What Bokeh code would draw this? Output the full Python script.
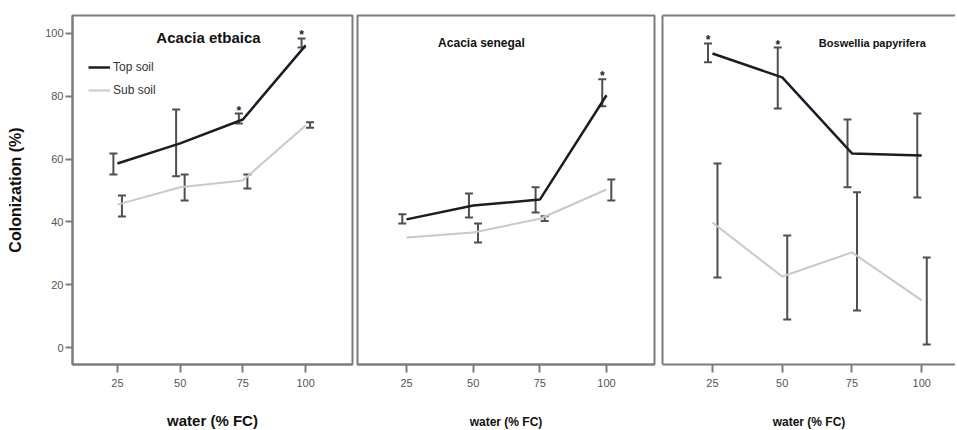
from bokeh.plotting import figure
from bokeh.layouts import row
from bokeh.models import (ColumnDataSource, Range1d, Whisker, Label, Legend, LegendItem,
                          FixedTicker, LinearAxis, TeeHead)
from bokeh.transform import dodge
from bokeh.core.properties import value
from bokeh.embed import file_html
from bokeh.resources import INLINE

nan = float("nan")

# ---------------- data ----------------
water = [25, 50, 75, 100]
xticks = [25, 50, 75, 100]
yticks = [0, 20, 40, 60, 80, 100]

titles = ["Acacia etbaica", "Acacia senegal", "Boswellia papyrifera"]
xlabel = "water (% FC)"
ylabel = "Colonization (%)"
series_names = ["Top soil", "Sub soil"]

# Acacia etbaica
ae_top = [58.6, 65.0, 72.6, 96.2]
ae_top_lo = [55.1, 54.5, 71.3, 95.5]
ae_top_hi = [61.8, 75.8, 74.5, 98.4]
ae_sub = [45.5, 51.0, 53.2, 70.7]
ae_sub_lo = [41.7, 46.8, 50.6, 70.0]
ae_sub_hi = [48.4, 55.1, 55.1, 71.7]
ae_sig = [False, False, True, True]

# Acacia senegal
as_top = [40.8, 45.2, 47.1, 80.3]
as_top_lo = [39.5, 41.4, 43.0, 76.8]
as_top_hi = [42.4, 49.0, 51.0, 85.4]
as_sub = [35.0, 36.6, 41.0, 50.3]
as_sub_lo = [nan, 33.4, 40.3, 46.8]
as_sub_hi = [nan, 39.5, 41.8, 53.5]
as_sig = [False, False, False, True]

# Boswellia papyrifera
bp_top = [93.6, 86.0, 61.8, 61.1]
bp_top_lo = [90.8, 76.1, 51.0, 47.8]
bp_top_hi = [96.8, 95.5, 72.6, 74.5]
bp_sub = [39.8, 22.6, 30.3, 15.0]
bp_sub_lo = [22.3, 8.9, 11.8, 1.0]
bp_sub_hi = [58.6, 35.7, 49.4, 28.7]
bp_sig = [True, True, False, False]

panels = [
    (ae_top, ae_top_lo, ae_top_hi, ae_sub, ae_sub_lo, ae_sub_hi, ae_sig),
    (as_top, as_top_lo, as_top_hi, as_sub, as_sub_lo, as_sub_hi, as_sig),
    (bp_top, bp_top_lo, bp_top_hi, bp_sub, bp_sub_lo, bp_sub_hi, bp_sig),
]

# ---------------- style ----------------
TOP_COLOR = "#1c1c26"
SUB_COLOR = "#c9c9c9"
BAR_COLOR = "#4f4f4f"
FRAME_COLOR = "#7c7c7c"
TICK_LABEL_COLOR = "#555555"
FONT = "Liberation Sans"

x_ranges = [(7.1, 118.7), (6.6, 118.0), (7.1, 112.1)]
frame_widths = [280, 297, 293]
borders = [(72, 2), (3, 3), (5, 0)]
y_range = (-5.4, 105.7)

# title label positions (x, y in data units), size, weight
title_pos = [(61.3, 98.7), (53.1, 96.8), (82.3, 96.8)]
title_fonts = [("15px", "bold"), ("12px", "bold"), ("11px", "bold")]
xlabel_sizes = ["15px", "12px", "12px"]

figs = []
for i, (top, tlo, thi, sub, slo, shi, sig) in enumerate(panels):
    bl, br = borders[i]
    p = figure(frame_width=frame_widths[i], frame_height=349,
               x_range=Range1d(*x_ranges[i]), y_range=Range1d(*y_range),
               min_border_left=bl, min_border_right=br,
               min_border_top=15, min_border_bottom=64,
               toolbar_location=None, output_backend="svg",
               background_fill_color="white", border_fill_color="white")
    p.grid.visible = False

    # x axis
    xa = p.xaxis[0]
    xa.ticker = FixedTicker(ticks=xticks)
    xa.minor_tick_line_color = None
    xa.major_tick_in = 0
    xa.major_tick_out = 8
    xa.major_tick_line_width = 2
    xa.major_tick_line_color = FRAME_COLOR
    xa.axis_line_color = FRAME_COLOR
    xa.axis_line_width = 2
    xa.major_label_text_font = FONT
    xa.major_label_text_font_size = "11px"
    xa.major_label_text_color = TICK_LABEL_COLOR
    xa.major_label_standoff = 6
    xa.axis_label = xlabel
    xa.axis_label_text_font = FONT
    xa.axis_label_text_font_size = xlabel_sizes[i]
    xa.axis_label_text_font_style = "bold"
    xa.axis_label_text_color = "#111111"
    xa.axis_label_standoff = 22 if i == 0 else 25

    ya = p.yaxis[0]
    if i == 0:
        ya.ticker = FixedTicker(ticks=yticks)
        ya.minor_tick_line_color = None
        ya.major_tick_in = 0
        ya.major_tick_out = 7
        ya.major_tick_line_width = 2
        ya.major_tick_line_color = FRAME_COLOR
        ya.axis_line_color = FRAME_COLOR
        ya.axis_line_width = 2
        ya.major_label_text_font = FONT
        ya.major_label_text_font_size = "11px"
        ya.major_label_text_color = TICK_LABEL_COLOR
        ya.major_label_standoff = 2
        ya.axis_label = ylabel
        ya.axis_label_text_font = FONT
        ya.axis_label_text_font_size = "16px"
        ya.axis_label_text_font_style = "bold"
        ya.axis_label_text_color = "#111111"
        ya.axis_label_standoff = 18
    elif i == 1:
        ya.visible = False
    else:
        ya.ticker = FixedTicker(ticks=[])
        ya.minor_tick_line_color = None
        ya.major_tick_line_color = None
        ya.axis_line_color = FRAME_COLOR
        ya.axis_line_width = 2

    if i < 2:
        p.outline_line_color = FRAME_COLOR
        p.outline_line_width = 2
    else:
        p.outline_line_color = None
        top_ax = LinearAxis(ticker=FixedTicker(ticks=[]), axis_line_color=FRAME_COLOR,
                            axis_line_width=2, major_tick_line_color=None,
                            minor_tick_line_color=None)
        p.add_layout(top_ax, "above")

    src = ColumnDataSource(dict(x=water, top=top, tlo=tlo, thi=thi,
                                sub=sub, slo=slo, shi=shi,
                                star=["*" if s else "" for s in sig]))

    r_sub = p.line("x", "sub", source=src, line_color=SUB_COLOR, line_width=2)
    r_top = p.line("x", "top", source=src, line_color=TOP_COLOR, line_width=2.5)

    for key_lo, key_hi, off in (("tlo", "thi", -1.6), ("slo", "shi", 1.8)):
        w = Whisker(base=dodge("x", off), lower=key_lo, upper=key_hi, source=src,
                    line_color=BAR_COLOR, line_width=2,
                    upper_head=TeeHead(size=8, line_color=BAR_COLOR, line_width=2),
                    lower_head=TeeHead(size=8, line_color=BAR_COLOR, line_width=2))
        p.add_layout(w)

    p.text(x=dodge("x", -1.6), y="thi", text="star", source=src,
           text_font=value(FONT), text_font_size="12px", text_font_style="bold",
           text_align="center", text_baseline="middle", y_offset=-3,
           text_color="#222222")

    ts, tst = title_fonts[i]
    p.add_layout(Label(x=title_pos[i][0], y=title_pos[i][1], text=titles[i],
                       text_font=FONT, text_font_size=ts, text_font_style=tst,
                       text_align="center", text_baseline="middle",
                       text_color="#111111"))

    if i == 0:
        leg = Legend(items=[LegendItem(label=series_names[0], renderers=[r_top]),
                            LegendItem(label=series_names[1], renderers=[r_sub])],
                     location=(16, 264), padding=0, margin=0,
                     border_line_color=None, background_fill_alpha=0,
                     glyph_width=22, glyph_height=20, label_height=20,
                     spacing=3, label_standoff=3,
                     label_text_font=FONT, label_text_font_size="12px",
                     label_text_color="#333333")
        p.add_layout(leg)

    figs.append(p)

layout = row(*figs, spacing=0)

open("out.html", "w").write(file_html(layout, INLINE))
